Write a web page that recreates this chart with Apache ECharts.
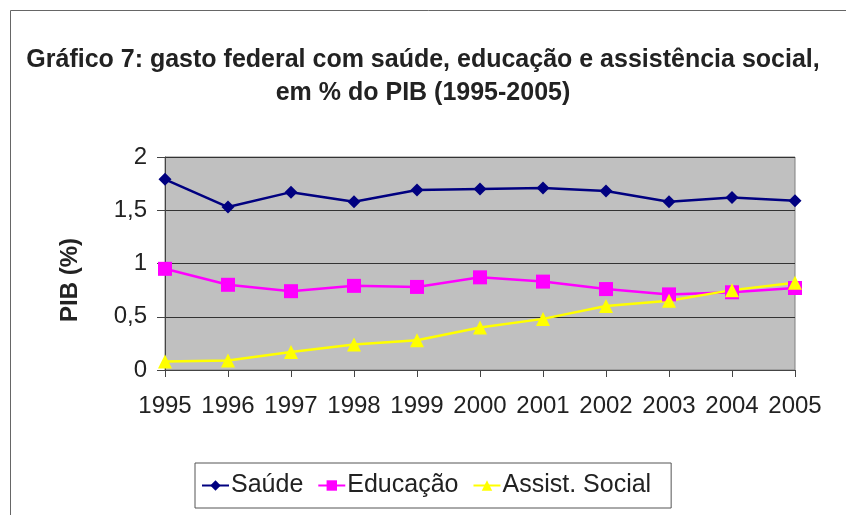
<!DOCTYPE html>
<html>
<head>
<meta charset="utf-8">
<script src="https://cdn.jsdelivr.net/npm/echarts@6/dist/echarts.min.js"></script>
<style>
  html, body { margin: 0; padding: 0; background: #fff; }
  #chart { width: 846px; height: 515px; }
</style>
</head>
<body>
<div id="chart"></div>
<script>
const years = ['1995', '1996', '1997', '1998', '1999', '2000', '2001', '2002', '2003', '2004', '2005']
const saude = [1.79, 1.53, 1.67, 1.58, 1.69, 1.70, 1.71, 1.68, 1.58, 1.62, 1.59]
const educacao = [0.95, 0.80, 0.74, 0.79, 0.78, 0.87, 0.83, 0.76, 0.71, 0.73, 0.77]
const assistSocial = [0.08, 0.09, 0.17, 0.24, 0.28, 0.40, 0.48, 0.60, 0.65, 0.75, 0.82]

const font = 'Liberation Sans, Arial, sans-serif'
const textColor = '#222'

let chart = echarts.init(document.getElementById('chart'))

chart.setOption({
  backgroundColor: '#fff',
  animation: false,
  title: {
    text: 'Gráfico 7: gasto federal com saúde, educação e assistência social,\nem % do PIB (1995-2005)',
    left: 'center',
    top: 39,
    textStyle: {
      fontFamily: font,
      fontSize: 25,
      fontWeight: 'bold',
      color: textColor,
      lineHeight: 33
    }
  },
  // moldura externa do gráfico
  graphic: [
    {
      type: 'rect',
      shape: { x: 10.5, y: 10.5, width: 900, height: 600 },
      style: { fill: 'none', stroke: '#666', lineWidth: 1 },
      silent: true
    },
    {
      type: 'text',
      x: 70,
      y: 280,
      rotation: Math.PI / 2,
      style: {
        text: 'PIB (%)',
        font: 'bold 24px ' + font,
        fill: textColor,
        align: 'center',
        verticalAlign: 'middle'
      }
    }
  ],
  legend: {
    left: 195,
    top: 463,
    orient: 'horizontal',
    padding: [10, 20, 10, 6],
    itemGap: 14,
    itemWidth: 27,
    itemHeight: 13,
    borderColor: '#555',
    borderWidth: 1,
    textStyle: {
      fontFamily: font,
      fontSize: 25,
      color: textColor,
      padding: [0, 0, 0, -3]
    },
    data: ['Saúde', 'Educação', 'Assist. Social']
  },
  grid: {
    left: 165,
    right: 51,
    top: 157,
    bottom: 145,
    show: true,
    backgroundColor: '#c0c0c0',
    borderColor: '#808080',
    borderWidth: 1
  },
  xAxis: {
    type: 'category',
    data: years,
    boundaryGap: false,
    axisLine: { lineStyle: { color: '#444', width: 1 } },
    axisTick: { show: true, inside: false, length: 7, lineStyle: { color: '#444' } },
    axisLabel: {
      interval: 0,
      fontFamily: font,
      fontSize: 24,
      color: textColor,
      margin: 24
    }
  },
  yAxis: {
    type: 'value',
    min: 0,
    max: 2,
    interval: 0.5,
    axisLine: { show: true, lineStyle: { color: '#444', width: 1 } },
    axisTick: { show: true, length: 8, lineStyle: { color: '#444' } },
    splitLine: { show: true, lineStyle: { color: '#333', width: 1 } },
    axisLabel: {
      fontFamily: font,
      fontSize: 24,
      color: textColor,
      margin: 18,
      formatter: v => String(v).replace('.', ',')
    }
  },
  series: [
    {
      name: 'Saúde',
      type: 'line',
      data: saude,
      symbol: 'diamond',
      symbolSize: 13,
      color: '#000080',
      lineStyle: { width: 2.5, color: '#000080' },
      itemStyle: { color: '#000080' }
    },
    {
      name: 'Educação',
      type: 'line',
      data: educacao,
      symbol: 'rect',
      symbolSize: 14,
      color: '#ff00ff',
      lineStyle: { width: 2.5, color: '#ff00ff' },
      itemStyle: { color: '#ff00ff' }
    },
    {
      name: 'Assist. Social',
      type: 'line',
      data: assistSocial,
      symbol: 'triangle',
      symbolSize: 14,
      color: '#ffff00',
      lineStyle: { width: 2.5, color: '#ffff00' },
      itemStyle: { color: '#ffff00' }
    }
  ]
})
</script>
</body>
</html>
